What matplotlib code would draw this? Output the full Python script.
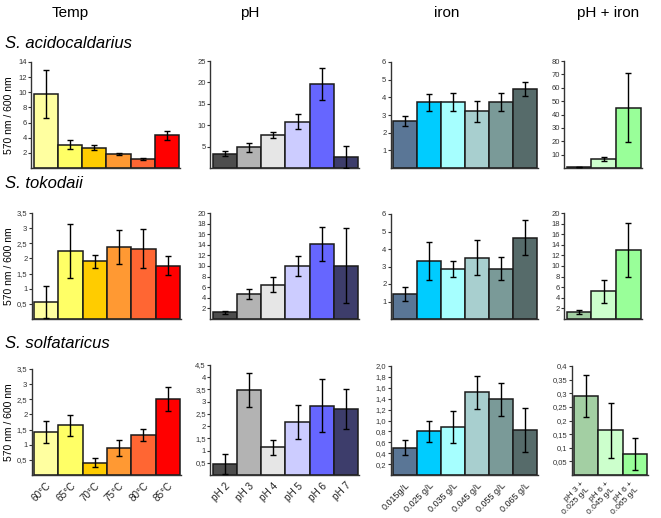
import matplotlib
matplotlib.use("Agg")
import matplotlib.pyplot as plt

plt.rcParams['font.family'] = ['Liberation Sans', 'DejaVu Sans']

W, H = 661, 518

# ---------------- data ----------------
temp_labels = ["60°C", "65°C", "70°C", "75°C", "80°C", "85°C"]
ph_labels = ["pH 2", "pH 3", "pH 4", "pH 5", "pH 6", "pH 7"]
iron_labels = ["0.015g/L", "0.025 g/L", "0.035 g/L", "0.045 g/L", "0.055 g/L", "0.065 g/L"]
phiron_labels = ["pH 3 +\n0.025 g/L", "pH 6 +\n0.045 g/L", "pH 6 +\n0.065 g/L"]

temp_colors = ["#FFFFA0", "#FFFF66", "#FFCC00", "#FF9933", "#FF6633", "#FF0000"]
ph_colors = ["#4D4D4D", "#B3B3B3", "#E6E6E6", "#CCCCFF", "#6666FF", "#3D3D6B"]
iron_colors = ["#5A7696", "#00CCFF", "#A6FFFF", "#A8CFCF", "#7A9A98", "#566B6A"]
phiron_colors = ["#A3CFA3", "#CCFFCC", "#99FF99"]

# S. acidocaldarius
aci_temp = [9.8, 3.1, 2.7, 1.82, 1.15, 4.3]
aci_temp_err = [3.2, 0.6, 0.3, 0.15, 0.15, 0.57]
aci_ph = [3.36, 4.84, 7.8, 10.8, 19.6, 2.6]
aci_ph_err = [0.55, 1.05, 0.7, 1.8, 3.7, 2.6]
aci_iron = [2.66, 3.72, 3.74, 3.2, 3.72, 4.49]
aci_iron_err = [0.26, 0.47, 0.5, 0.57, 0.5, 0.4]
aci_phiron = [0.9, 6.5, 45.2]
aci_phiron_err = [0.0, 1.6, 26.0]

# S. tokodaii
tok_temp = [0.56, 2.25, 1.91, 2.37, 2.32, 1.76]
tok_temp_err = [0.53, 0.9, 0.21, 0.57, 0.65, 0.32]
tok_ph = [1.26, 4.72, 6.48, 10.0, 14.15, 10.06]
tok_ph_err = [0.25, 0.9, 1.45, 1.85, 3.15, 7.05]
tok_iron = [1.44, 3.3, 2.85, 3.51, 2.88, 4.65]
tok_iron_err = [0.4, 1.09, 0.46, 1.0, 0.66, 0.99]
tok_phiron = [1.32, 5.2, 13.0]
tok_phiron_err = [0.35, 2.2, 5.15]

# S. solfataricus
sol_temp = [1.42, 1.64, 0.41, 0.88, 1.32, 2.51]
sol_temp_err = [0.37, 0.34, 0.14, 0.26, 0.2, 0.39]
sol_ph = [0.46, 3.48, 1.13, 2.16, 2.84, 2.71]
sol_ph_err = [0.4, 0.71, 0.3, 0.69, 1.1, 0.81]
sol_iron = [0.5, 0.8, 0.88, 1.52, 1.39, 0.83]
sol_iron_err = [0.135, 0.2, 0.3, 0.3, 0.3, 0.4]
sol_phiron = [0.29, 0.164, 0.077]
sol_phiron_err = [0.077, 0.1, 0.06]

# ------------- layout -------------
fig = plt.figure(figsize=(W / 100, H / 100), dpi=100)


def add_ax(x0, x1, ytop, ybot):
    return fig.add_axes([x0 / W, 1 - ybot / H, (x1 - x0) / W, (ybot - ytop) / H])


def fmt(v, dec, keep_zero):
    s = ("%." + str(dec) + "f") % v
    if dec > 0 and not keep_zero:
        s = s.rstrip('0').rstrip('.')
    return s.replace('.', ',')


def panel(box, vals, errs, colors, ymax, ticks, labels=None, dec=0, keep_zero=False,
          bw=24.3, label_va='top', label_fs=6.5, pad=4, ls=1.0):
    x0, ytop, ybot, n = box
    gap = 2.5
    x1 = x0 + gap + bw * n + 1
    ax = add_ax(x0, x1, ytop, ybot)
    xs = list(range(n))
    ax.bar(xs, vals, width=1.0, color=colors, edgecolor="#1a1a1a", linewidth=1.1, zorder=2)
    ax.errorbar(xs, vals, yerr=errs, fmt='none', ecolor='black', elinewidth=1.0,
                capsize=2, capthick=1.0, zorder=3)
    ax.set_xlim(-0.5 - gap / bw, n - 0.5 + 1 / bw)
    ax.set_ylim(0, ymax)
    ax.set_yticks(ticks)
    ax.set_yticklabels([fmt(t, dec, keep_zero) for t in ticks])
    for s in ['top', 'right']:
        ax.spines[s].set_visible(False)
    for s in ['left', 'bottom']:
        ax.spines[s].set_linewidth(1.0)
        ax.spines[s].set_color('#333333')
    ax.tick_params(axis='y', length=2, width=0.8, pad=1, labelsize=5.5, colors='#333333')
    ax.tick_params(axis='x', length=0)
    ax.patch.set_alpha(0)
    if labels is None:
        ax.set_xticks([])
    else:
        ax.set_xticks(xs)
        ax.set_xticklabels(labels, rotation=45, ha='right', va=label_va,
                           rotation_mode='anchor', fontsize=label_fs, color='#222222',
                           linespacing=ls)
        ax.tick_params(axis='x', pad=pad)
    return ax


def ylab(ytop, ybot):
    fig.text(9 / W, 1 - (ytop + ybot) / 2 / H, "570 nm / 600 nm", rotation=90,
             fontsize=7.5, ha='center', va='center')


# Row 1
panel((31, 62, 168, 6), aci_temp, aci_temp_err, temp_colors, 14, [2, 4, 6, 8, 10, 12, 14])
ylab(62, 168)
panel((210, 61, 168, 6), aci_ph, aci_ph_err, ph_colors, 25, [5, 10, 15, 20, 25])
panel((390.5, 62, 168, 6), aci_iron, aci_iron_err, iron_colors, 6, [1, 2, 3, 4, 5, 6], bw=24.0)
panel((564, 61, 168, 3), aci_phiron, aci_phiron_err, phiron_colors, 80,
      [10, 20, 30, 40, 50, 60, 70, 80], bw=24.7)

# Row 2
panel((31.5, 213, 319, 6), tok_temp, tok_temp_err, temp_colors, 3.5,
      [0.5, 1, 1.5, 2, 2.5, 3, 3.5], dec=1)
ylab(213, 319)
panel((210, 213, 319, 6), tok_ph, tok_ph_err, ph_colors, 20, list(range(2, 21, 2)))
panel((390.5, 214, 319, 6), tok_iron, tok_iron_err, iron_colors, 6, [1, 2, 3, 4, 5, 6], bw=24.0)
panel((564, 213, 319, 3), tok_phiron, tok_phiron_err, phiron_colors, 20,
      list(range(2, 21, 2)), bw=24.7)

# Row 3
panel((31.5, 369, 475, 6), sol_temp, sol_temp_err, temp_colors, 3.5,
      [0.5, 1, 1.5, 2, 2.5, 3, 3.5], labels=temp_labels, dec=1, label_fs=7.2)
ylab(369, 475)
panel((210, 365, 475, 6), sol_ph, sol_ph_err, ph_colors, 4.5,
      [0.5, 1, 1.5, 2, 2.5, 3, 3.5, 4, 4.5], labels=ph_labels, dec=1, label_fs=7.2)
panel((390.5, 366, 475, 6), sol_iron, sol_iron_err, iron_colors, 2.0,
      [0.2, 0.4, 0.6, 0.8, 1.0, 1.2, 1.4, 1.6, 1.8, 2.0], labels=iron_labels, dec=1,
      keep_zero=True, bw=24.0, label_fs=6.5)
panel((571.5, 366, 475, 3), sol_phiron, sol_phiron_err, phiron_colors, 0.4,
      [0.05, 0.1, 0.15, 0.2, 0.25, 0.3, 0.35, 0.4], labels=phiron_labels, dec=2, bw=24.4,
      label_va='center', label_fs=6.0, pad=8, ls=1.2)

# Headers
for txt, x in [("Temp", 70), ("pH", 250), ("iron", 447), ("pH + iron", 608)]:
    fig.text(x / W, 1 - 13 / H, txt, fontsize=11, ha='center', va='center')

for txt, y in [("S. acidocaldarius", 43), ("S. tokodaii", 184), ("S. solfataricus", 343)]:
    fig.text(5 / W, 1 - y / H, txt, fontsize=12, style='italic', ha='left', va='center')

fig.savefig("out.png", dpi=100)
